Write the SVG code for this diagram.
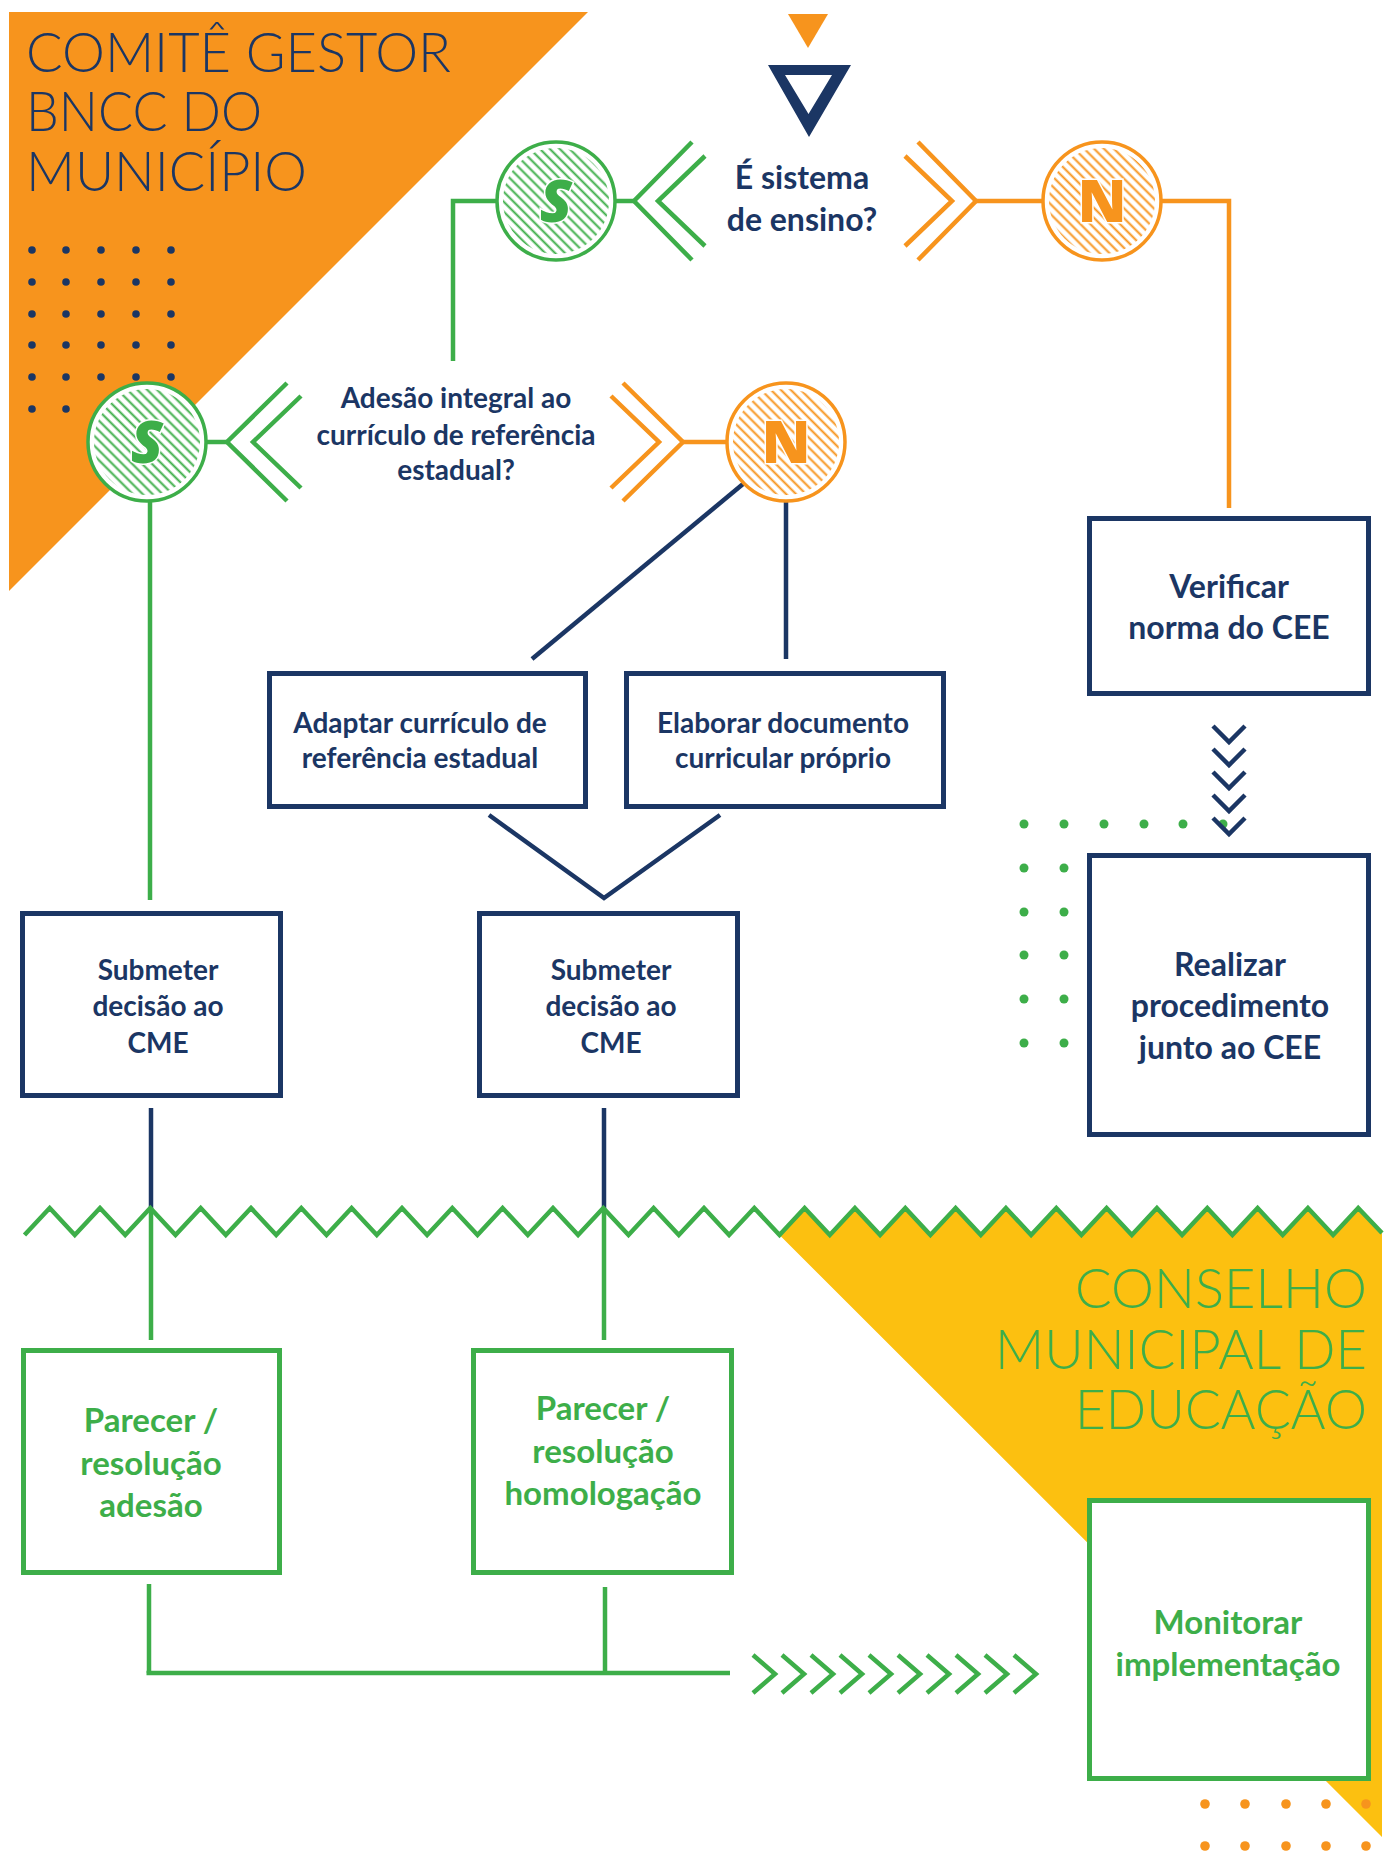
<svg xmlns="http://www.w3.org/2000/svg" width="1399" height="1852" viewBox="0 0 1399 1852">
<defs>
<style>
.nv{fill:none;stroke:#1B3664;stroke-width:4.5}
.gr{fill:none;stroke:#3DAE49;stroke-width:4.5}
.or{fill:none;stroke:#F7941D;stroke-width:4.5}
.chg{fill:none;stroke:#3DAE49;stroke-width:4.5}
.cho{fill:none;stroke:#F7941D;stroke-width:4.5}
.bn{fill:#fff;stroke:#1B3664;stroke-width:5}
.bg{fill:#fff;stroke:#3DAE49;stroke-width:5}
.t{font-family:Lato,"Open Sans","Liberation Sans",sans-serif;font-weight:700;text-anchor:middle}
.tn{fill:#1B3664}
.tg{fill:#3DAE49}
.ttl{font-family:Lato,"Open Sans","Liberation Sans",sans-serif;font-weight:300;font-size:56px}
.ring-g{fill:#fff;stroke:#3DAE49;stroke-width:3.5}
.ring-o{fill:#fff;stroke:#F7941D;stroke-width:3.5}
.lg{font-family:"Open Sans","Liberation Sans",sans-serif;font-weight:800;font-size:59px;text-anchor:middle;stroke:#fff;stroke-width:3;paint-order:stroke}
.dn{fill:#1B3664}
.dg{fill:#3DAE49}
.do{fill:#F7941D}
</style>
<pattern id="hg" patternUnits="userSpaceOnUse" width="7" height="7" patternTransform="rotate(-45)">
<line x1="3.5" y1="0" x2="3.5" y2="7" stroke="#3DAE49" stroke-width="2"/>
</pattern>
<pattern id="ho" patternUnits="userSpaceOnUse" width="7" height="7" patternTransform="rotate(-45)">
<line x1="3.5" y1="0" x2="3.5" y2="7" stroke="#F7941D" stroke-width="2"/>
</pattern>
</defs>

<!-- backgrounds -->
<polygon points="9,12 588,12 9,591" fill="#F7941D"/>
<polygon fill="#FCC010" points="779.5,1235 804.6,1208 829.8,1235 854.9,1208 880.1,1235 905.3,1208 930.4,1235 955.6,1208 980.8,1235 1005.9,1208 1031.1,1235 1056.3,1208 1081.4,1235 1106.6,1208 1131.8,1235 1156.9,1208 1182.1,1235 1207.3,1208 1232.4,1235 1257.6,1208 1282.7,1235 1307.9,1208 1333.1,1235 1358.2,1208 1382,1233 1382,1837"/>

<text class="ttl" fill="#1B3664" x="26" y="72" textLength="425" lengthAdjust="spacingAndGlyphs">COMITÊ GESTOR</text>
<text class="ttl" fill="#1B3664" x="26" y="131" textLength="236" lengthAdjust="spacingAndGlyphs">BNCC DO</text>
<text class="ttl" fill="#1B3664" x="26" y="191" textLength="281" lengthAdjust="spacingAndGlyphs">MUNICÍPIO</text>

<text class="ttl" fill="#3DAE49" x="1367" y="1308" text-anchor="end" textLength="292" lengthAdjust="spacingAndGlyphs">CONSELHO</text>
<text class="ttl" fill="#3DAE49" x="1367" y="1369" text-anchor="end" textLength="372" lengthAdjust="spacingAndGlyphs">MUNICIPAL DE</text>
<text class="ttl" fill="#3DAE49" x="1367" y="1429" text-anchor="end" textLength="292" lengthAdjust="spacingAndGlyphs">EDUCAÇÃO</text>

<!-- dot grids -->
<g class="dn">
<circle cx="32" cy="250" r="3.8"/><circle cx="66" cy="250" r="3.8"/><circle cx="101" cy="250" r="3.8"/><circle cx="136" cy="250" r="3.8"/><circle cx="171" cy="250" r="3.8"/>
<circle cx="32" cy="282" r="3.8"/><circle cx="66" cy="282" r="3.8"/><circle cx="101" cy="282" r="3.8"/><circle cx="136" cy="282" r="3.8"/><circle cx="171" cy="282" r="3.8"/>
<circle cx="32" cy="314" r="3.8"/><circle cx="66" cy="314" r="3.8"/><circle cx="101" cy="314" r="3.8"/><circle cx="136" cy="314" r="3.8"/><circle cx="171" cy="314" r="3.8"/>
<circle cx="32" cy="345" r="3.8"/><circle cx="66" cy="345" r="3.8"/><circle cx="101" cy="345" r="3.8"/><circle cx="136" cy="345" r="3.8"/><circle cx="171" cy="345" r="3.8"/>
<circle cx="32" cy="377" r="3.8"/><circle cx="66" cy="377" r="3.8"/><circle cx="101" cy="377" r="3.8"/><circle cx="136" cy="377" r="3.8"/><circle cx="171" cy="377" r="3.8"/>
<circle cx="32" cy="409" r="3.8"/><circle cx="66" cy="409" r="3.8"/><circle cx="101" cy="409" r="3.8"/><circle cx="136" cy="409" r="3.8"/><circle cx="171" cy="409" r="3.8"/>
</g>
<g class="dg">
<circle cx="1024" cy="824" r="4.5"/><circle cx="1064" cy="824" r="4.5"/><circle cx="1104" cy="824" r="4.5"/><circle cx="1144" cy="824" r="4.5"/><circle cx="1183" cy="824" r="4.5"/><circle cx="1223" cy="824" r="4.5"/>
<circle cx="1024" cy="868" r="4.5"/><circle cx="1064" cy="868" r="4.5"/>
<circle cx="1024" cy="912" r="4.5"/><circle cx="1064" cy="912" r="4.5"/>
<circle cx="1024" cy="955" r="4.5"/><circle cx="1064" cy="955" r="4.5"/>
<circle cx="1024" cy="999" r="4.5"/><circle cx="1064" cy="999" r="4.5"/>
<circle cx="1024" cy="1043" r="4.5"/><circle cx="1064" cy="1043" r="4.5"/>
</g>
<g class="do">
<circle cx="1205" cy="1804" r="4.8"/><circle cx="1245" cy="1804" r="4.8"/><circle cx="1286" cy="1804" r="4.8"/><circle cx="1326" cy="1804" r="4.8"/><circle cx="1366" cy="1804" r="4.8"/>
<circle cx="1205" cy="1846" r="4.8"/><circle cx="1245" cy="1846" r="4.8"/><circle cx="1286" cy="1846" r="4.8"/><circle cx="1326" cy="1846" r="4.8"/><circle cx="1366" cy="1846" r="4.8"/>
</g>

<!-- connectors -->
<g id="connectors">
<polygon points="788,14 828,14 808,48" fill="#F7941D"/>
<path d="M768,65 L851,65 L809,137 Z M785,75 L832,75 L808.5,114 Z" fill="#1B3664" fill-rule="evenodd"/>

<polyline class="gr" points="497,201 453,201 453,361"/>
<line class="gr" x1="614" y1="201" x2="634" y2="201"/>
<polyline class="chg" points="692,142 634,201 692,260"/>
<polyline class="chg" points="705,156 658,201 705,246"/>
<polyline class="cho" points="918,142 976,201 918,260"/>
<polyline class="cho" points="905,156 952,201 905,246"/>
<line class="or" x1="976" y1="201" x2="1043" y2="201"/>
<polyline class="or" points="1161,201 1229,201 1229,508"/>

<line class="gr" x1="205" y1="442" x2="227" y2="442"/>
<polyline class="chg" points="287,383 227,442 287,501"/>
<polyline class="chg" points="301,396 253,442 301,488"/>
<polyline class="cho" points="623,383 683,442 623,501"/>
<polyline class="cho" points="611,396 659,442 611,488"/>
<line class="or" x1="683" y1="442" x2="727" y2="442"/>

<line class="gr" x1="150" y1="500" x2="150" y2="900"/>
<line class="nv" x1="743" y1="484" x2="532" y2="659"/>
<line class="nv" x1="786" y1="500" x2="786" y2="659"/>
<polyline class="nv" points="489,815 604,898 720,815"/>

<g class="nv" stroke-width="5">
<polyline points="1213,726 1229,742 1245,726"/>
<polyline points="1213,749 1229,765 1245,749"/>
<polyline points="1213,772 1229,788 1245,772"/>
<polyline points="1213,795 1229,811 1245,795"/>
<polyline points="1213,818 1229,834 1245,818"/>
</g>

<line class="nv" x1="151" y1="1108" x2="151" y2="1209"/>
<line class="nv" x1="604" y1="1108" x2="604" y2="1209"/>
<line class="gr" x1="151" y1="1209" x2="151" y2="1340"/>
<line class="gr" x1="604" y1="1209" x2="604" y2="1340"/>
<polyline class="gr" points="24.5,1235 49.7,1208 74.8,1235 100,1208 125.2,1235 150.3,1208 175.5,1235 200.7,1208 225.8,1235 251,1208 276.2,1235 301.3,1208 326.5,1235 351.6,1208 376.8,1235 402,1208 427.1,1235 452.3,1208 477.5,1235 502.6,1208 527.8,1235 553,1208 578.1,1235 603.3,1208 628.5,1235 653.6,1208 678.8,1235 704,1208 729.1,1235 754.3,1208 779.5,1235 804.6,1208 829.8,1235 854.9,1208 880.1,1235 905.3,1208 930.4,1235 955.6,1208 980.8,1235 1005.9,1208 1031.1,1235 1056.3,1208 1081.4,1235 1106.6,1208 1131.8,1235 1156.9,1208 1182.1,1235 1207.3,1208 1232.4,1235 1257.6,1208 1282.7,1235 1307.9,1208 1333.1,1235 1358.2,1208 1382,1233"/>

<line class="gr" x1="149" y1="1584" x2="149" y2="1673"/>
<line class="gr" x1="605" y1="1587" x2="605" y2="1673"/>
<line class="gr" stroke-width="5.5" x1="146.5" y1="1673" x2="730" y2="1673"/>
<g class="chg" stroke-width="6">
<polyline points="753,1655 775,1674 753,1693"/>
<polyline points="782,1655 804,1674 782,1693"/>
<polyline points="811,1655 833,1674 811,1693"/>
<polyline points="840,1655 862,1674 840,1693"/>
<polyline points="869,1655 891,1674 869,1693"/>
<polyline points="898,1655 920,1674 898,1693"/>
<polyline points="927,1655 949,1674 927,1693"/>
<polyline points="956,1655 978,1674 956,1693"/>
<polyline points="985,1655 1007,1674 985,1693"/>
<polyline points="1014,1655 1036,1674 1014,1693"/>
</g>
</g>

<!-- decision nodes -->
<g id="q1">
<text class="t tn" font-size="32" x="802" y="189">É sistema</text>
<text class="t tn" font-size="32" x="802" y="231">de ensino?</text>
</g>
<g id="s1">
<circle class="ring-g" cx="556" cy="201" r="59"/>
<circle cx="556" cy="201" r="53" fill="url(#hg)"/>
<text class="lg" fill="#3DAE49" font-style="italic" x="556" y="222">S</text>
</g>
<g id="n1">
<circle class="ring-o" cx="1102" cy="201" r="59"/>
<circle cx="1102" cy="201" r="53" fill="url(#ho)"/>
<text class="lg" fill="#F7941D" x="1102" y="222">N</text>
</g>
<g id="q2">
<text class="t tn" font-size="28" x="456" y="408">Adesão integral ao</text>
<text class="t tn" font-size="28" x="456" y="445">currículo de referência</text>
<text class="t tn" font-size="28" x="456" y="480">estadual?</text>
</g>
<g id="s2">
<circle class="ring-g" cx="147" cy="442" r="59"/>
<circle cx="147" cy="442" r="53" fill="url(#hg)"/>
<text class="lg" fill="#3DAE49" font-style="italic" x="147" y="463">S</text>
</g>
<g id="n2">
<circle class="ring-o" cx="786" cy="442" r="59"/>
<circle cx="786" cy="442" r="53" fill="url(#ho)"/>
<text class="lg" fill="#F7941D" x="786" y="463">N</text>
</g>

<!-- process nodes -->
<g id="verificar">
<rect class="bn" x="1089.5" y="518.5" width="279" height="175"/>
<text class="t tn" font-size="32" x="1229" y="598">Verificar</text>
<text class="t tn" font-size="32" x="1229" y="639">norma do CEE</text>
</g>
<g id="realizar">
<rect class="bn" x="1089.5" y="855.5" width="279" height="279"/>
<text class="t tn" font-size="32" x="1230" y="976">Realizar</text>
<text class="t tn" font-size="32" x="1230" y="1017">procedimento</text>
<text class="t tn" font-size="32" x="1230" y="1059">junto ao CEE</text>
</g>
<g id="adaptar">
<rect class="bn" x="269.5" y="673.5" width="316" height="133"/>
<text class="t tn" font-size="28" x="420" y="733">Adaptar currículo de</text>
<text class="t tn" font-size="28" x="420" y="768">referência estadual</text>
</g>
<g id="elaborar">
<rect class="bn" x="626.5" y="673.5" width="317" height="133"/>
<text class="t tn" font-size="28" x="783" y="733">Elaborar documento</text>
<text class="t tn" font-size="28" x="783" y="768">curricular próprio</text>
</g>
<g id="submeter1">
<rect class="bn" x="22.5" y="913.5" width="258" height="182"/>
<text class="t tn" font-size="28" x="158" y="980">Submeter</text>
<text class="t tn" font-size="28" x="158" y="1016">decisão ao</text>
<text class="t tn" font-size="28" x="158" y="1053">CME</text>
</g>
<g id="submeter2">
<rect class="bn" x="479.5" y="913.5" width="258" height="182"/>
<text class="t tn" font-size="28" x="611" y="980">Submeter</text>
<text class="t tn" font-size="28" x="611" y="1016">decisão ao</text>
<text class="t tn" font-size="28" x="611" y="1053">CME</text>
</g>
<g id="parecer1">
<rect class="bg" x="23.5" y="1350.5" width="256" height="222"/>
<text class="t tg" font-size="33" x="151" y="1432">Parecer /</text>
<text class="t tg" font-size="33" x="151" y="1475">resolução</text>
<text class="t tg" font-size="33" x="151" y="1517">adesão</text>
</g>
<g id="parecer2">
<rect class="bg" x="473.5" y="1350.5" width="258" height="222"/>
<text class="t tg" font-size="33" x="603" y="1420">Parecer /</text>
<text class="t tg" font-size="33" x="603" y="1463">resolução</text>
<text class="t tg" font-size="33" x="603" y="1505">homologação</text>
</g>
<g id="monitorar">
<rect class="bg" x="1089.5" y="1500.5" width="279" height="278"/>
<text class="t tg" font-size="33" x="1228" y="1634">Monitorar</text>
<text class="t tg" font-size="33" x="1228" y="1676">implementação</text>
</g>
</svg>
